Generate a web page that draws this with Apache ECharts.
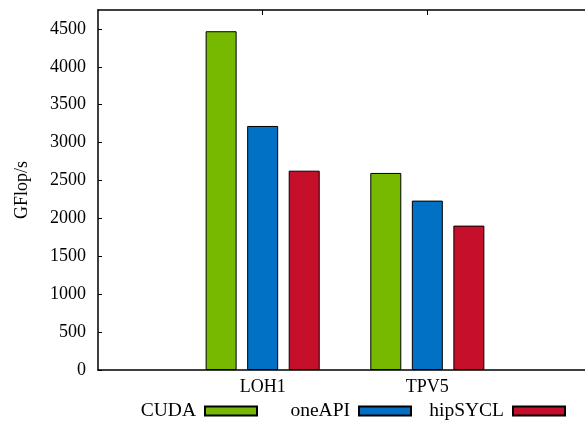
<!DOCTYPE html>
<html>
<head>
<meta charset="utf-8">
<script src="https://cdn.jsdelivr.net/npm/echarts@6/dist/echarts.min.js"></script>
<style>html,body{margin:0;padding:0;background:#fff;overflow:hidden}#c{width:595px;height:423px}</style>
</head>
<body>
<div id="c"></div>
<script>
var categories = ['', 'LOH1', 'TPV5', ''];
var seriesNames = ['CUDA', 'oneAPI', 'hipSYCL'];
var cudaValues = [null, 4470, 2600, null];
var oneapiValues = [null, 3220, 2235, null];
var hipsyclValues = [null, 2630, 1905, null];
var yTicks = { min: 0, max: 4750, interval: 500 };

var FONT = 'Liberation Serif';
var FS = 18;
var colors = ['#76b900', '#0071c5', '#c50f2b'];
var chart = echarts.init(document.getElementById('c'), null, { renderer: 'canvas' });

function mkLegend(name, right) {
  return {
    data: [{ name: name, icon: 'rect' }], right: right, bottom: 2, align: 'right', orient: 'horizontal',
    itemWidth: 52, itemHeight: 9, itemGap: 0, padding: 0,
    textStyle: { fontFamily: FONT, fontSize: 19.5, color: '#000', padding: [0, 4, 0, 0] }, selectedMode: false
  };
}

var valuesList = [cudaValues, oneapiValues, hipsyclValues];
chart.setOption({
  animation: false,
  grid: { left: 98, right: 0, top: 10, bottom: 53 },
  legend: [mkLegend('CUDA', 337), mkLegend('oneAPI', 183), mkLegend('hipSYCL', 29)],
  xAxis: [{
    type: 'category', data: categories, boundaryGap: false, position: 'bottom',
    axisLine: { lineStyle: { color: '#000', width: 1.5 } },
    axisTick: { show: false },
    axisLabel: { fontFamily: FONT, fontSize: FS, color: '#000', margin: 8, interval: 0 },
    splitLine: { show: false }
  }, {
    type: 'category', data: categories, boundaryGap: false, position: 'top',
    axisLine: { lineStyle: { color: '#000', width: 1.5 } },
    axisTick: { inside: true, length: 5, lineStyle: { color: '#000' },
      interval: function (i) { return i === 1 || i === 2; } },
    axisLabel: { show: false }, splitLine: { show: false }
  }],
  yAxis: {
    type: 'value', min: yTicks.min, max: yTicks.max, interval: yTicks.interval,
    name: 'GFlop/s', nameLocation: 'middle', nameGap: 67, nameRotate: 90,
    nameTextStyle: { fontFamily: FONT, fontSize: FS, color: '#000' },
    axisLine: { show: true, lineStyle: { color: '#000', width: 1.5 } },
    axisTick: { show: true, inside: true, length: 4, lineStyle: { color: '#000' } },
    axisLabel: { fontFamily: FONT, fontSize: FS, color: '#000', margin: 12, showMaxLabel: false,
      formatter: function (v) { return String(v); } },
    splitLine: { show: false }
  },
  series: seriesNames.map(function (n, i) {
    return {
      name: n, type: 'bar', data: valuesList[i], xAxisIndex: 0,
      barWidth: 31, barGap: '34%',
      itemStyle: { color: colors[i], borderColor: '#000', borderWidth: 1 }
    };
  })
});
</script>
</body>
</html>
